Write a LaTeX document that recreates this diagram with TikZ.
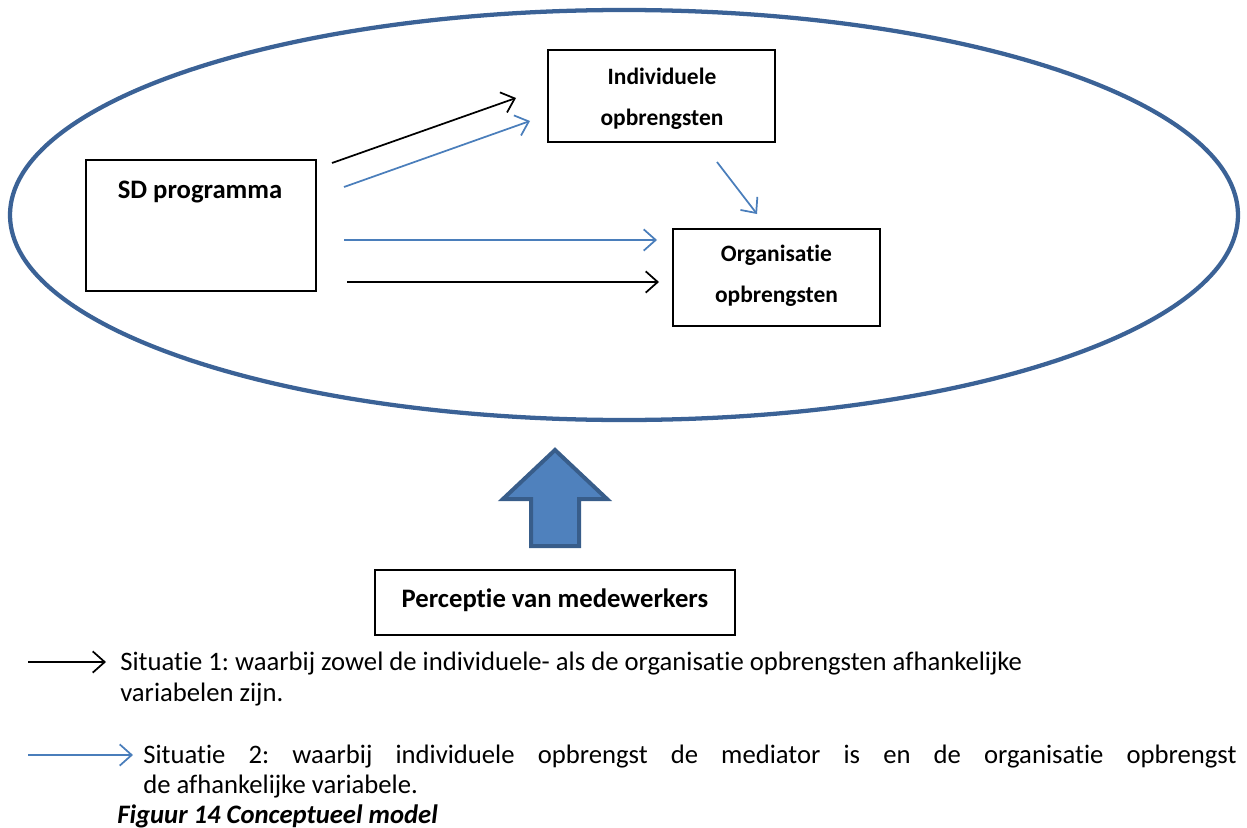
\documentclass[tikz,border=0pt]{standalone}
\usepackage{fontspec}
\setmainfont{Carlito}[Ligatures=NoCommon]
\usetikzlibrary{arrows.meta}
\frenchspacing
\definecolor{ellblue}{HTML}{3B6296}
\definecolor{arrblue}{HTML}{4A7EBB}
\definecolor{fillblue}{HTML}{4F81BD}
\definecolor{edgeblue}{HTML}{385D8A}
\tikzset{
  box/.style={draw=black, line width=0.8pt, inner sep=0pt},
  boxtext/.style={font=\fontsize{17.6}{21}\selectfont\bfseries, align=center, inner sep=0pt},
  bigbox/.style={font=\fontsize{20}{24}\selectfont\bfseries, inner sep=0pt},
  conn/.style={line width=1.3pt, -{Straight Barb[length=9pt,width=16pt,line width=1.3pt]}},
  legtext/.style={font=\fontsize{20}{24}\selectfont\frenchspacing, anchor=base west, inner sep=0pt}
}
\begin{document}
\begin{tikzpicture}[x=0.75pt,y=-0.75pt]
\useasboundingbox (0,0) rectangle (1247,828);
% ellipse
\draw[ellblue, line width=3.2pt] (624,215) ellipse [x radius=460.5pt, y radius=153.75pt];
% boxes
\node[box, minimum width=172.5pt, minimum height=98.25pt] (sd) at (201,225.5) {};
\node[bigbox] (sdt) at (200,192) {SD programma};
\node[box, minimum width=170.25pt, minimum height=69pt] (ind) at (661.5,96) {};
\node[boxtext] (indt) at (662,99) {Individuele\\[10pt]opbrengsten};
\node[box, minimum width=155.25pt, minimum height=72.75pt] (org) at (776.5,277.5) {};
\node[boxtext] (orgt) at (776.5,276) {Organisatie\\[10pt]opbrengsten};
\node[box, minimum width=270pt, minimum height=48.75pt] (per) at (555,602.5) {};
\node[bigbox] (pert) at (555,600) {Perceptie van medewerkers};
% connector endpoints
\coordinate (a1s) at (332,163); \coordinate (a1e) at (516,98);
\coordinate (a2s) at (344,187); \coordinate (a2e) at (530,121);
\coordinate (a3s) at (344,240); \coordinate (a3e) at (657,240);
\coordinate (a4s) at (347,282); \coordinate (a4e) at (659,282);
\coordinate (a5s) at (717,162); \coordinate (a5e) at (757,214);
\draw[conn, black] (a1s) -- (a1e);
\draw[conn, arrblue] (a2s) -- (a2e);
\draw[conn, arrblue] (a3s) -- (a3e);
\draw[conn, black] (a4s) -- (a4e);
\draw[conn, arrblue] (a5s) -- (a5e);
% block arrow
\draw[fill=fillblue, draw=edgeblue, line width=3pt, line join=miter]
  (531,546) -- (531,499) -- (503,499) -- (555,450) -- (607,499) -- (579,499) -- (579,546) -- cycle;
% legend
\coordinate (l1s) at (28,662); \coordinate (l1e) at (106,662);
\coordinate (l2s) at (28,755); \coordinate (l2e) at (133,755);
\draw[conn, black] (l1s) -- (l1e);
\draw[conn, arrblue] (l2s) -- (l2e);
\node[legtext] (t1) at (120,670) {Situatie 1: waarbij zowel de individuele- als de organisatie opbrengsten afhankelijke};
\node[legtext] (t2) at (120,701) {variabelen zijn.};
\node[legtext] (t3) at (143,763) {\makebox[820pt][s]{Situatie 2: waarbij individuele opbrengst de mediator is en de organisatie opbrengst}};
\node[legtext] (t4) at (143,793) {de afhankelijke variabele.};
\node[legtext, font=\fontsize{20}{24}\selectfont\bfseries\itshape] (t5) at (117,823) {Figuur 14 Conceptueel model};
\end{tikzpicture}
\end{document}
